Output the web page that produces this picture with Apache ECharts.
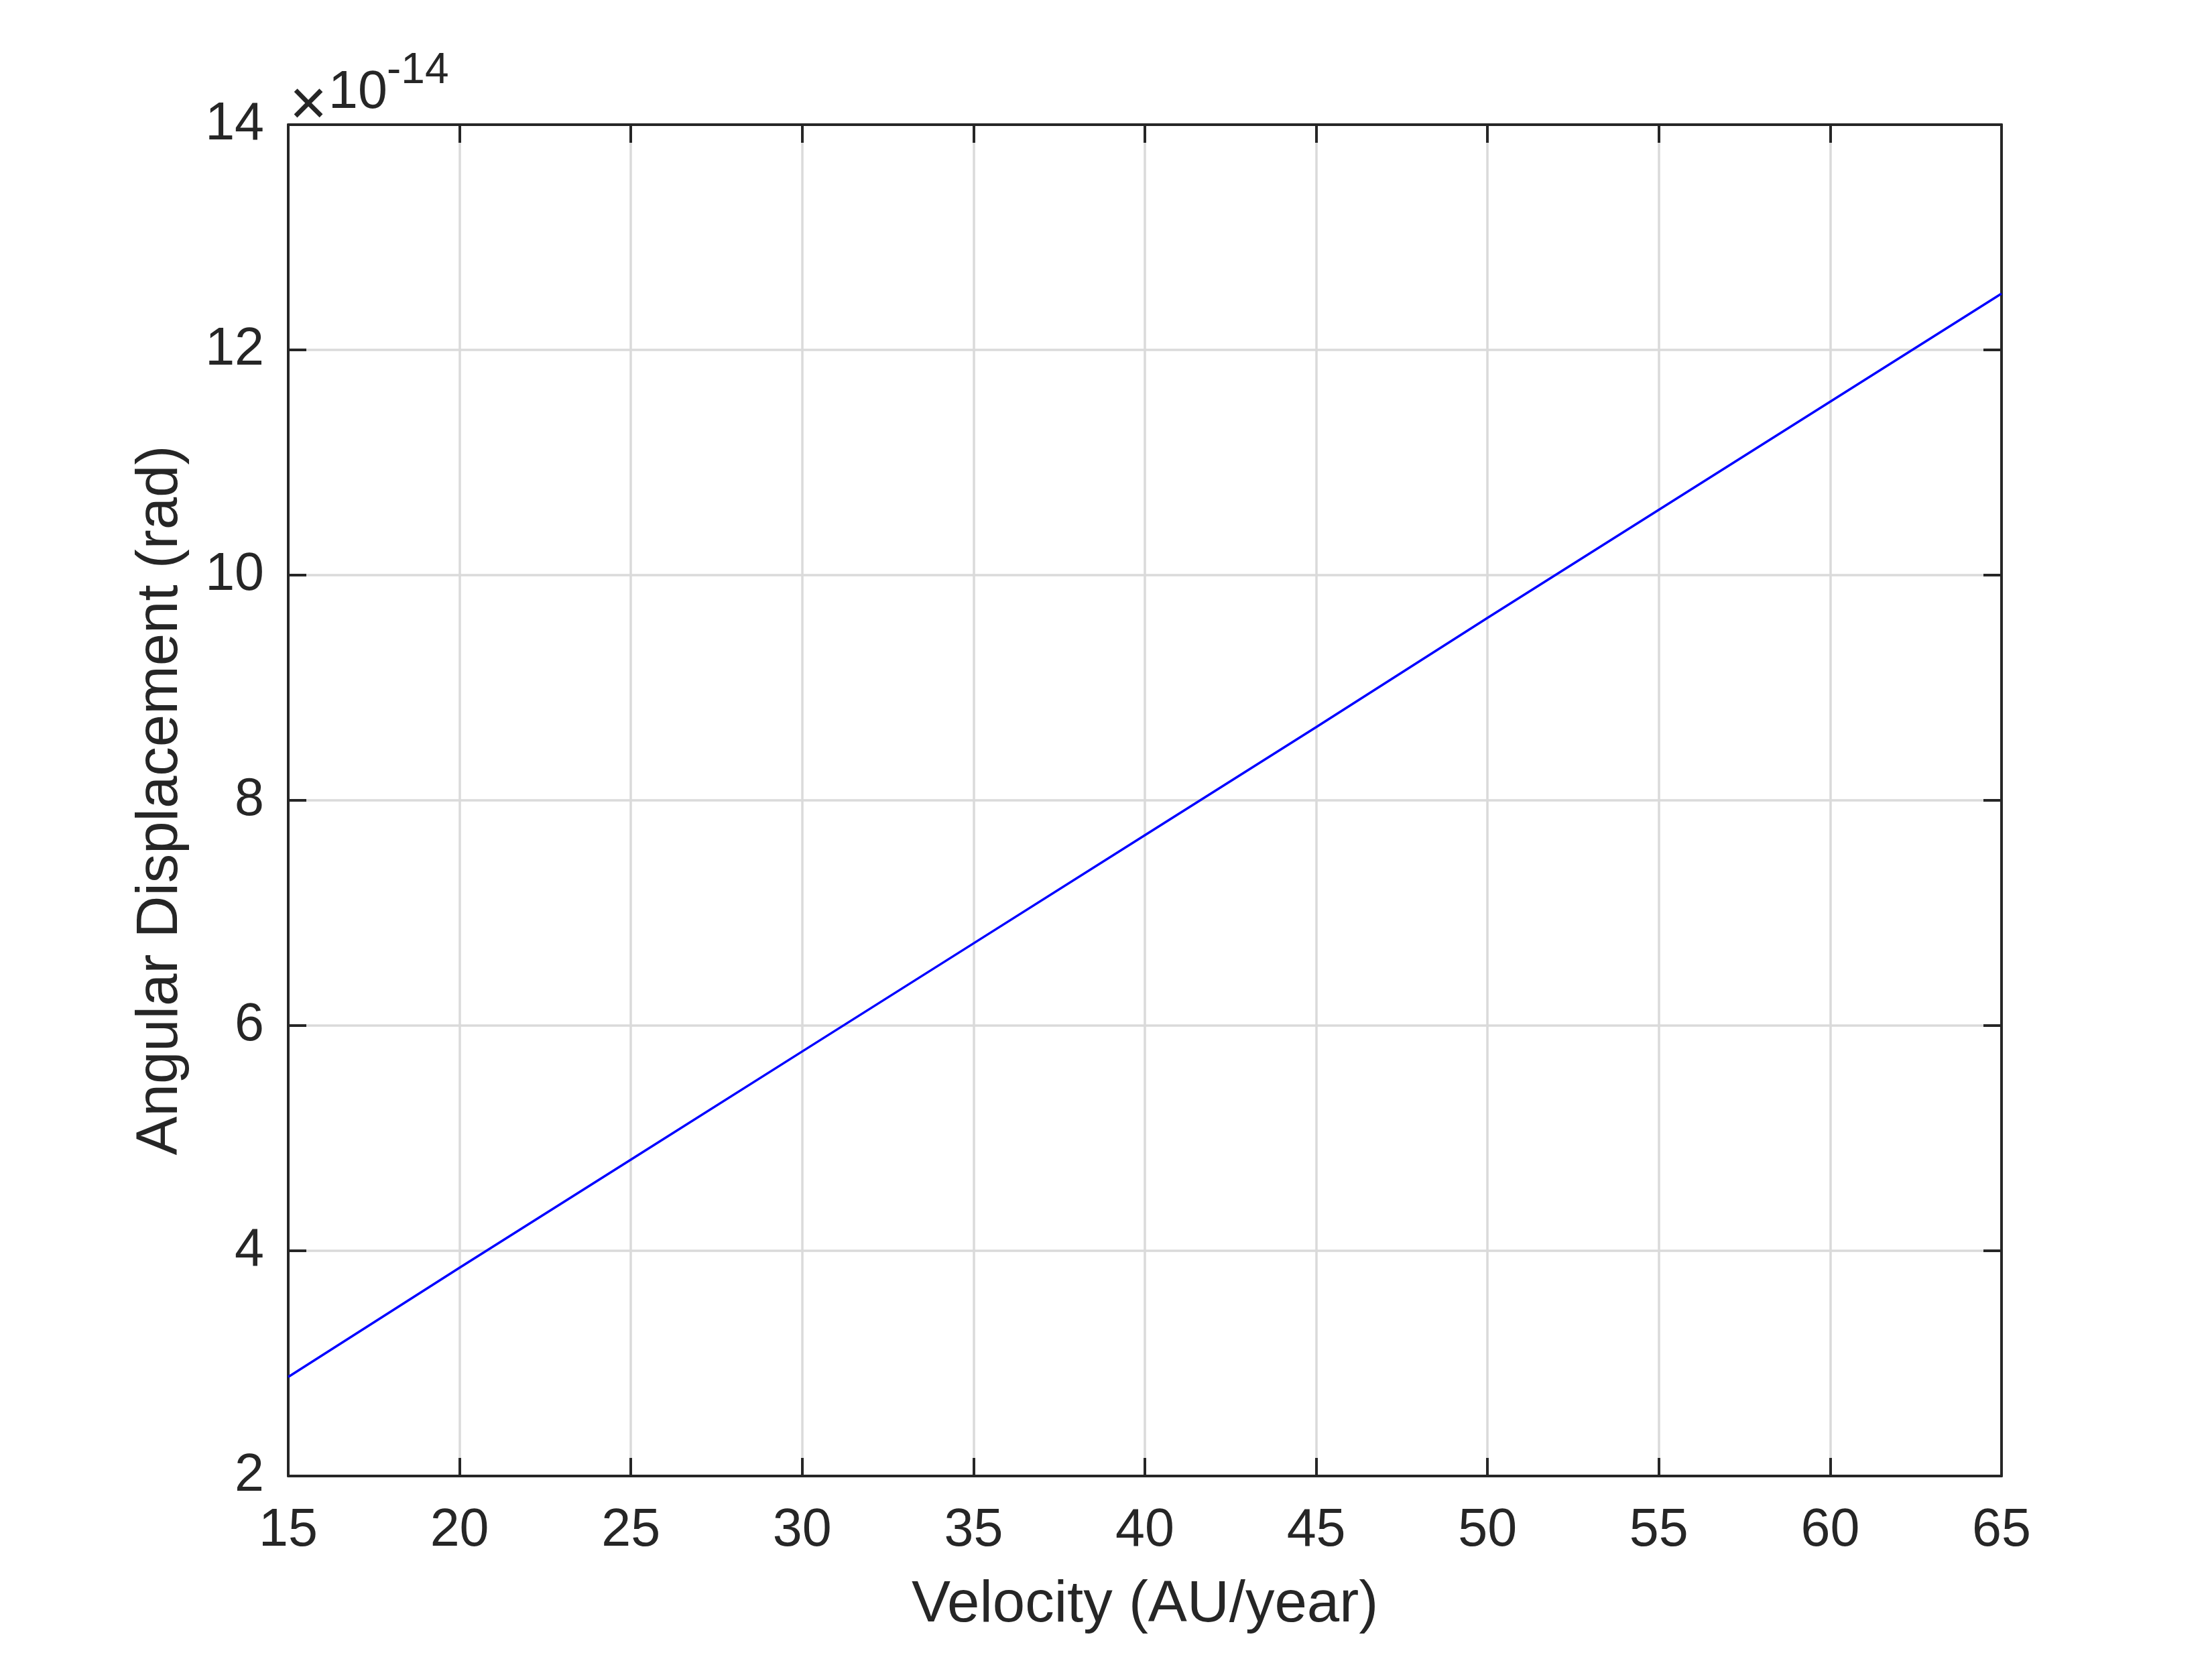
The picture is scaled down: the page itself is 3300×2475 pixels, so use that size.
<!DOCTYPE html>
<html>
<head>
<meta charset="utf-8">
<script src="https://cdn.jsdelivr.net/npm/echarts@6/dist/echarts.min.js"></script>
<style>
html,body{margin:0;padding:0;background:#fff;}
#chart{width:3300px;height:2475px;}
</style>
</head>
<body>
<div id="chart"></div>
<script>
// Data (angular displacement in units of 1e-14 rad)
const velocity = [15, 20, 25, 30, 35, 40, 45, 50, 55, 60, 65];
const displacement = [2.88, 3.85, 4.81, 5.77, 6.73, 7.69, 8.65, 9.62, 10.58, 11.54, 12.50];
const xTitle = 'Velocity (AU/year)';
const yTitle = 'Angular Displacement (rad)';
const exponentBase = '10';
const exponentPower = '-14';

const FONT = '"Liberation Sans", Arial, Helvetica, sans-serif';
const INK = '#262626';
const GRIDC = '#dadada';

const chart = echarts.init(document.getElementById('chart'), null, {renderer: 'canvas'});

const seriesData = velocity.map((v, i) => [v, displacement[i]]);

const baseAxisLine = {show: true, onZero: false, lineStyle: {color: INK, width: 4}};
const baseTick = {show: true, inside: true, length: 27, lineStyle: {color: INK, width: 4}};

chart.setOption({
  backgroundColor: '#ffffff',
  animation: false,
  grid: {left: 430, right: 314, top: 186, bottom: 273, containLabel: false},
  xAxis: [
    {
      type: 'value', min: 15, max: 65, interval: 5, position: 'bottom',
      axisLine: baseAxisLine, axisTick: baseTick,
      axisLabel: {show: true, color: INK, fontSize: 79, fontFamily: FONT, margin: 43},
      splitLine: {show: true, lineStyle: {color: GRIDC, width: 3.5}},
      name: xTitle, nameLocation: 'middle', nameGap: 150,
      nameTextStyle: {color: INK, fontSize: 87, fontFamily: FONT}
    },
    {
      type: 'value', min: 15, max: 65, interval: 5, position: 'top',
      axisLine: baseAxisLine, axisTick: baseTick,
      axisLabel: {show: false}, splitLine: {show: false}
    }
  ],
  yAxis: [
    {
      type: 'value', min: 2, max: 14, interval: 2, position: 'left',
      axisLine: baseAxisLine, axisTick: baseTick,
      axisLabel: {show: true, color: INK, fontSize: 79, fontFamily: FONT, margin: 36},
      splitLine: {show: true, lineStyle: {color: GRIDC, width: 3.5}},
      name: yTitle, nameLocation: 'middle', nameGap: 146, nameRotate: 90,
      nameTextStyle: {color: INK, fontSize: 87, fontFamily: FONT}
    },
    {
      type: 'value', min: 2, max: 14, interval: 2, position: 'right',
      axisLine: baseAxisLine, axisTick: baseTick,
      axisLabel: {show: false}, splitLine: {show: false}
    }
  ],
  series: [
    {
      type: 'line', xAxisIndex: 0, yAxisIndex: 0,
      data: seriesData, showSymbol: false, symbol: 'none',
      lineStyle: {color: '#0000ff', width: 3.5},
      z: 5
    }
  ],
  graphic: [
    {type: 'text', left: 432, top: 112, style: {text: '×', font: '96px ' + FONT, fill: INK}},
    {type: 'text', left: 490, top: 100, style: {text: exponentBase, font: '79px ' + FONT, fill: INK}},
    {type: 'text', left: 577, top: 74, style: {text: exponentPower, font: '64px ' + FONT, fill: INK}}
  ]
});
</script>
</body>
</html>
